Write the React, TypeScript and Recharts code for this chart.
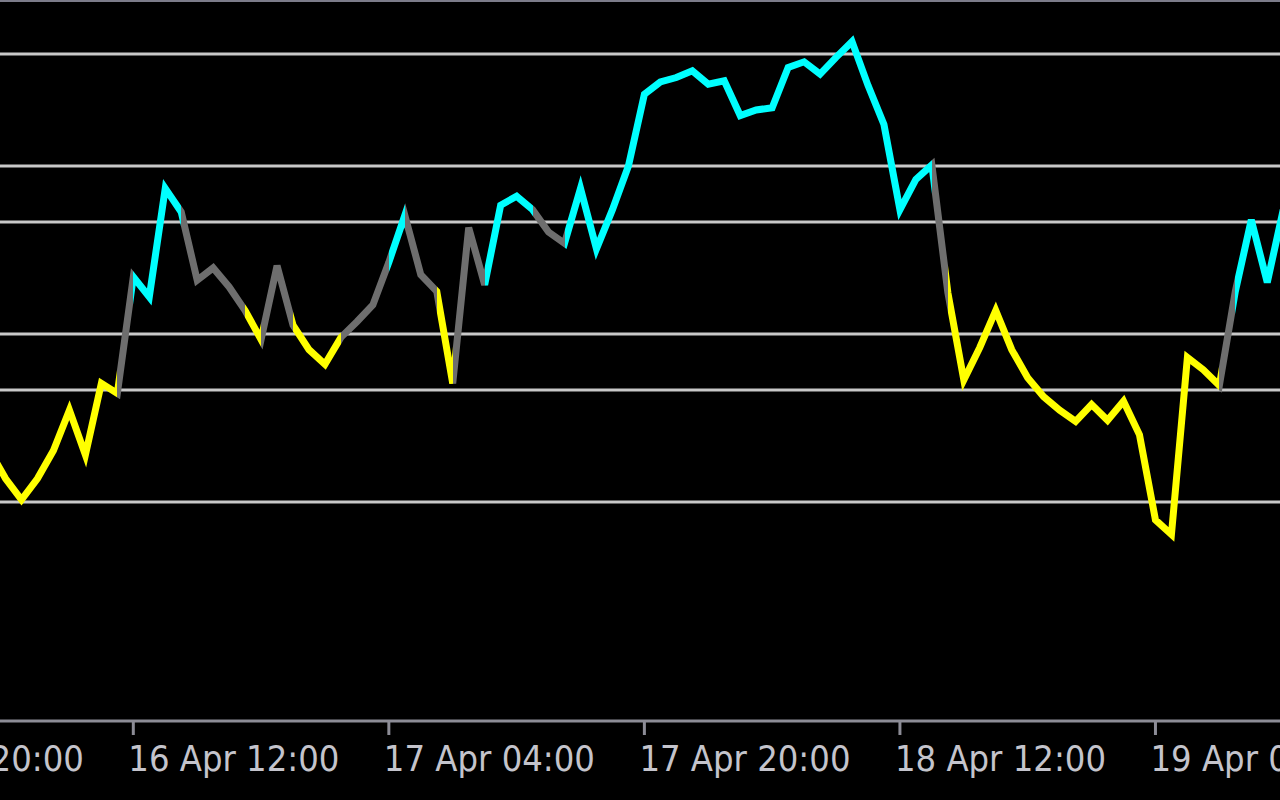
import { LineChart, Line, XAxis, YAxis, ReferenceLine } from "recharts";

// hourly readings, first one is 9 hours before 16 Apr 12:00
const firstHour = -9;
const values = [
  34.6, 32.1, 30.2, 32.1, 34.6, 38.2, 34.2, 40.6, 39.7,
  50.1, 48.3, 58.0, 55.9, 49.8, 50.9, 49.2, 47.1, 44.5, 51.1,
  45.8, 43.6, 42.3, 44.7, 46.1, 47.6, 51.4, 55.6, 50.3, 48.8,
  40.6, 54.5, 49.4, 56.5, 57.3, 56.1, 54.1, 53.1, 58.0, 52.6,
  56.1, 60.0, 66.4, 67.5, 67.9, 68.5, 67.3, 67.6, 64.5, 65.0,
  65.2, 68.8, 69.3, 68.2, 69.7, 71.1, 67.2, 63.7, 56.1, 58.8,
  60.1, 48.7, 40.9, 43.8, 47.1, 43.6, 41.1, 39.4, 38.2, 37.2,
  38.7, 37.3, 39.0, 36.0, 28.4, 27.1, 42.9, 41.8, 40.4, 48.8,
  55.2, 49.6, 56.1,
];
// colour of the segment that ends at each reading: Y down, G flat, C up
const trend = [
  "Y", "Y", "Y", "Y", "Y", "Y", "Y", "Y", "Y",
  "G", "C", "C", "C", "G", "G", "G", "G", "Y", "G",
  "G", "Y", "Y", "Y", "G", "G", "G", "C", "G", "G",
  "Y", "G", "G", "C", "C", "C", "G", "G", "C", "C",
  "C", "C", "C", "C", "C", "C", "C", "C", "C", "C",
  "C", "C", "C", "C", "C", "C", "C", "C", "C", "C",
  "C", "G", "Y", "Y", "Y", "Y", "Y", "Y", "Y", "Y",
  "Y", "Y", "Y", "Y", "Y", "Y", "Y", "Y", "Y", "G",
  "C", "C", "C",
];
const levels = [30, 40, 45, 55, 60, 70];
const tickLabels = [
  "15 Apr 20:00",
  "16 Apr 12:00",
  "17 Apr 04:00",
  "17 Apr 20:00",
  "18 Apr 12:00",
  "19 Apr 04:00",
];
const tickHours = [-16, 0, 16, 32, 48, 64];

const trendColors: Record<string, string> = {
  Y: "#ffff00",
  G: "#6e6e6e",
  C: "#00ffff",
};

const data = values.map((v, i) => ({ h: firstHour + i, v }));

function TimeTick(props: any) {
  const { x, y, payload } = props;
  const idx = tickHours.indexOf(payload.value);
  return (
    <text
      x={x - 5}
      y={y}
      dy={34}
      textAnchor="start"
      fill="#c4c4cc"
      fontSize={36}
      fontFamily="'Liberation Sans Narrow', 'DejaVu Sans Condensed', sans-serif"
    >
      {tickLabels[idx]}
    </text>
  );
}

export default function App() {
  const n = values.length;
  const stops: { offset: number; color: string }[] = [];
  for (let i = 1; i < n; i++) {
    const c = trendColors[trend[i]];
    stops.push({ offset: (i - 1) / (n - 1), color: c });
    stops.push({ offset: i / (n - 1), color: c });
  }

  return (
    <div
      style={{
        position: "absolute",
        left: 0,
        top: 0,
        width: 1280,
        height: 800,
        overflow: "hidden",
        background: "#000",
      }}
    >
      <div
        style={{
          position: "absolute",
          left: 0,
          top: 0,
          width: 1280,
          height: 2,
          background: "#7c7c8a",
        }}
      />
      <div style={{ position: "absolute", left: -250, top: 0 }}>
        <LineChart
          width={1661}
          height={800}
          data={data}
          margin={{ top: 2, right: 0, bottom: 0, left: 0 }}
        >
          <defs>
            <linearGradient id="trendStroke" x1="0" y1="0" x2="1" y2="0">
              {stops.map((s, i) => (
                <stop key={i} offset={s.offset} stopColor={s.color} />
              ))}
            </linearGradient>
          </defs>
          <XAxis
            dataKey="h"
            type="number"
            domain={[-24, 80]}
            ticks={tickHours}
            interval={0}
            height={79}
            axisLine={{ stroke: "#8c8c96", strokeWidth: 3 }}
            tickLine={{ stroke: "#8c8c96", strokeWidth: 3 }}
            tickSize={14}
            tick={<TimeTick />}
            allowDataOverflow
          />
          <YAxis hide domain={[10.45, 74.64]} allowDataOverflow />
          {levels.map((l) => (
            <ReferenceLine key={l} y={l} stroke="#c8c8c8" strokeWidth={3} />
          ))}
          <Line
            type="linear"
            dataKey="v"
            stroke="url(#trendStroke)"
            strokeWidth={7}
            strokeLinejoin="miter"
            dot={false}
            activeDot={false}
            isAnimationActive={false}
          />
        </LineChart>
      </div>
    </div>
  );
}
